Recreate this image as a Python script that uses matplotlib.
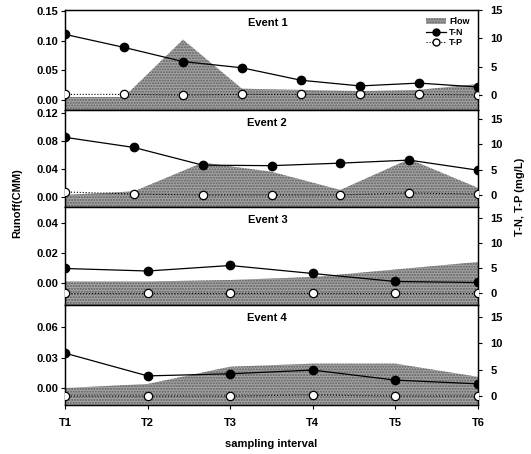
import matplotlib
matplotlib.use('Agg')
import matplotlib.pyplot as plt
from matplotlib.patches import Patch
from matplotlib.lines import Line2D
import numpy as np

plt.rcParams['font.family'] = ['Liberation Sans', 'DejaVu Sans']
plt.rcParams['font.weight'] = 'bold'
plt.rcParams['font.size'] = 8

# x positions are in units of the T1..T6 sampling grid (0..5)
x1 = np.linspace(0, 5, 8)
x2 = np.linspace(0, 5, 7)
x3 = np.linspace(0, 5, 6)
x4 = np.linspace(0, 5, 6)

flow1 = [0.005, 0.005, 0.102, 0.019, 0.017, 0.015, 0.017, 0.027]
tn1 = [10.7, 8.4, 5.9, 4.8, 2.6, 1.6, 2.1, 1.4]
tp1 = [0.1, 0.1, 0.0, 0.1, 0.1, 0.1, 0.1, 0.0]

flow2 = [0.003, 0.008, 0.049, 0.036, 0.010, 0.054, 0.013]
tn2 = [11.4, 9.4, 5.9, 5.8, 6.3, 6.9, 4.9]
tp2 = [0.6, 0.2, 0.0, 0.0, 0.0, 0.4, 0.2]

flow3 = [0.001, 0.001, 0.002, 0.004, 0.009, 0.014]
tn3 = [4.9, 4.4, 5.5, 3.9, 2.3, 2.1]
tp3 = [0.0, 0.0, 0.0, 0.0, 0.0, 0.0]

flow4 = [0.0, 0.004, 0.021, 0.024, 0.024, 0.011]
tn4 = [8.1, 3.8, 4.2, 4.9, 3.0, 2.3]
tp4 = [0.0, 0.0, 0.0, 0.2, 0.0, 0.0]

xlabels = ['T1', 'T2', 'T3', 'T4', 'T5', 'T6']

panels = [
    (x1, flow1, tn1, tp1, 'Event 1', (-0.017, 0.152), [0, 0.05, 0.10, 0.15], '%.2f', (-2.65, 15.0)),
    (x2, flow2, tn2, tp2, 'Event 2', (-0.0143, 0.124), [0, 0.04, 0.08, 0.12], '%.2f', (-2.37, 16.8)),
    (x3, flow3, tn3, tp3, 'Event 3', (-0.0147, 0.0507), [0, 0.02, 0.04], '%.2f', (-2.4, 17.2)),
    (x4, flow4, tn4, tp4, 'Event 4', (-0.0167, 0.0817), [0, 0.03, 0.06], '%.2f', (-1.7, 17.2)),
]

W, H = 531, 454
fig = plt.figure(figsize=(W / 100, H / 100), dpi=100)
edges = [10, 110, 207, 305, 405]
left, right = 65, 478

flow_col = '#a4a4a4'
hatch_col = '#5e5e5e'
for i, (x, fl, tn, tp, title, ylim, yt, fmt, rlim) in enumerate(panels):
    top, bot = edges[i], edges[i + 1]
    ax = fig.add_axes([left / W, 1 - bot / H, (right - left) / W, (bot - top) / H])
    ax.fill_between(x, ylim[0], fl, facecolor=flow_col, edgecolor=hatch_col,
                    hatch='......', linewidth=0, zorder=1)
    ax.set_xlim(0, 5)
    ax.set_ylim(*ylim)
    ax.set_yticks(yt)
    ax.set_yticklabels([fmt % v for v in yt])
    ax.tick_params(axis='y', direction='out', length=3, width=0.8, pad=2)
    ax.set_xticks(range(6))
    if i == 3:
        ax.set_xticklabels(xlabels)
        ax.tick_params(axis='x', direction='out', length=3, pad=6)
    else:
        ax.tick_params(axis='x', length=0, labelbottom=False)
    ax.text(0.49, 0.87, title, transform=ax.transAxes, ha='center', va='center',
            fontsize=8, fontweight='bold')

    ax2 = ax.twinx()
    ax2.plot(x, tp, linestyle=':', color='black', lw=0.8, marker='o', ms=6,
             mfc='white', mec='black', mew=0.9, zorder=3)
    ax2.plot(x, tn, linestyle='-', color='black', lw=0.9, marker='o', ms=6,
             mfc='black', mec='black', zorder=4)
    ax2.set_ylim(*rlim)
    ax2.set_yticks([0, 5, 10, 15])
    ax2.tick_params(axis='y', direction='out', length=3, width=0.8, pad=6)
    for a in (ax, ax2):
        for s in a.spines.values():
            s.set_linewidth(0.9)
    ax2.set_xlim(0, 5)

    if i == 0:
        handles = [Patch(facecolor=flow_col, edgecolor=hatch_col, hatch='......', lw=0),
                   Line2D([], [], color='black', lw=0.9, marker='o', ms=5, mfc='black'),
                   Line2D([], [], color='black', lw=0.8, ls=':', marker='o', ms=5,
                          mfc='white', mec='black')]
        ax2.legend(handles, ['Flow', 'T-N', 'T-P'], loc='upper right', frameon=False,
                   fontsize=6.5, handlelength=2.2, handletextpad=0.4,
                   labelspacing=0.15, borderaxespad=0.3,
                   bbox_to_anchor=(0.995, 0.99))

fig.text(17 / W, 1 - 203 / H, 'Runoff(CMM)', rotation=90, ha='center', va='center',
         fontsize=8, fontweight='bold')
fig.text(520 / W, 1 - 197 / H, 'T-N, T-P (mg/L)', rotation=90, ha='center', va='center',
         fontsize=8, fontweight='bold')
fig.text(271 / W, 1 - 444 / H, 'sampling interval', ha='center', va='center',
         fontsize=8, fontweight='bold')

fig.savefig('out.png', dpi=100)
